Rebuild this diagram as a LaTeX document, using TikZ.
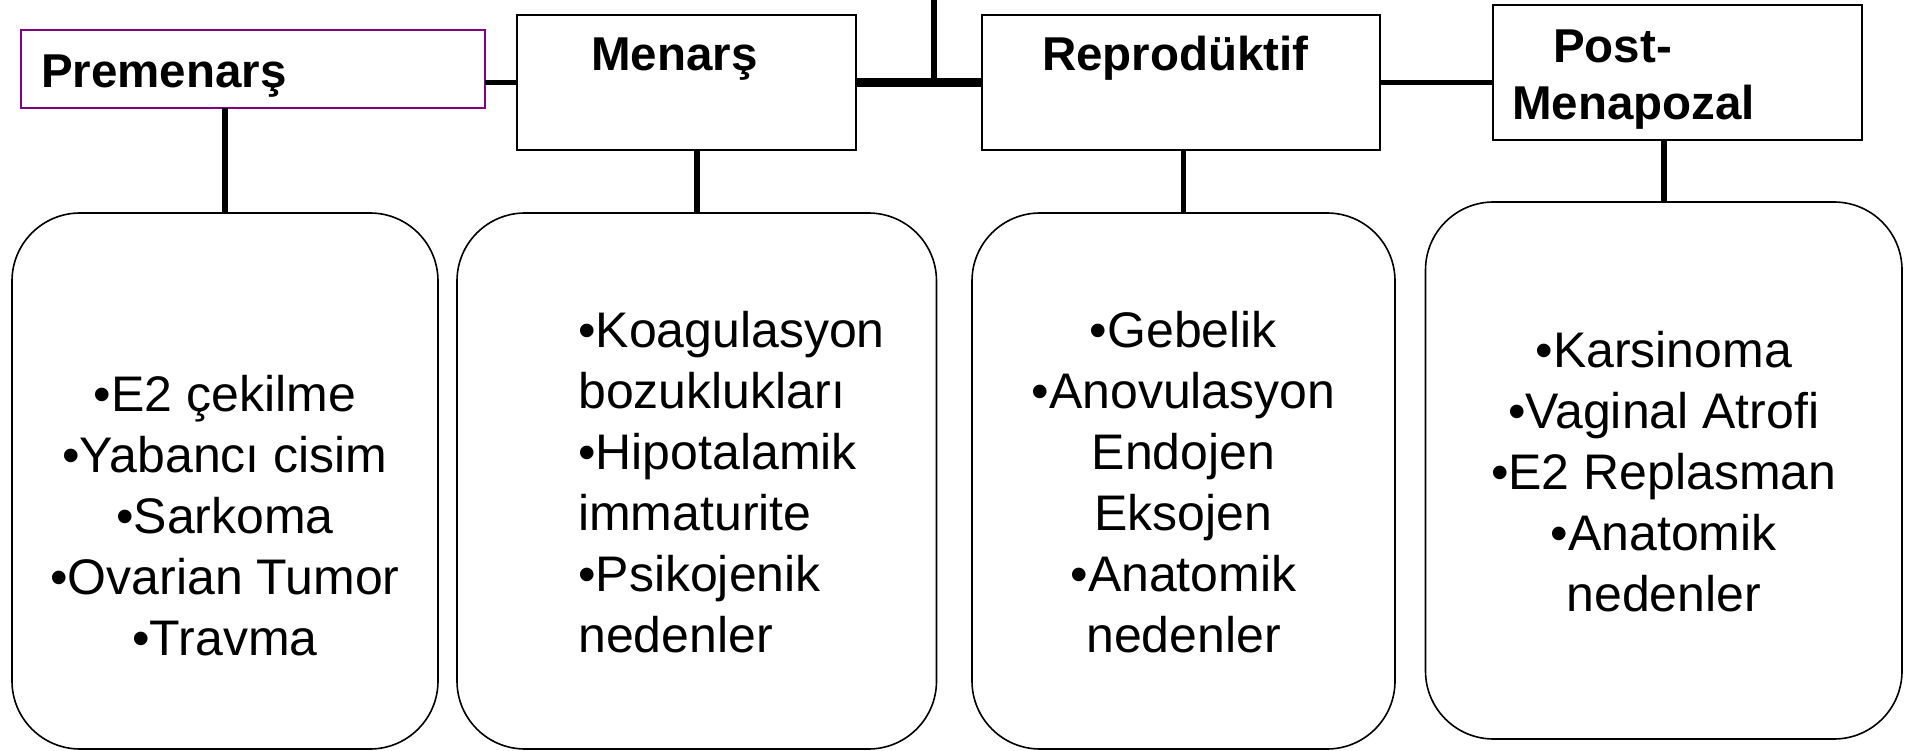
\documentclass[tikz,border=0pt]{standalone}
\usepackage{fontspec}
\setmainfont{Liberation Sans}
\definecolor{premcol}{RGB}{128,0,128}

\begin{document}
\begin{tikzpicture}[x=1pt, y=-1pt,
        hdr/.style={draw, line width=2pt, inner sep=0, outer sep=0},
        hdrtext/.style={font=\fontsize{47.5}{57}\selectfont\bfseries, inner sep=0},
        cause/.style={draw, line width=1.6pt, rounded corners=68pt, inner sep=0, outer sep=0, minimum height=536pt},
        causetext/.style={font=\fontsize{50}{61}\selectfont, inner sep=0, anchor=north},
        link/.style={line width=5.5pt}
    ]
    \useasboundingbox (0,0) rectangle (1912,751);
    \node[hdr, draw=premcol, minimum width=464pt, minimum height=78pt] (pre) at (252.9,69.5) {};
    \node[hdr, minimum width=339pt, minimum height=135pt] (men) at (686.5,82.3) {};
    \node[hdr, minimum width=398pt, minimum height=135pt] (rep) at (1180.8,82.3) {};
    \node[hdr, minimum width=369pt, minimum height=135pt] (post) at (1677.5,72.5) {};
    \node[hdrtext, anchor=base west] (pre-t) at (41,87.5) {Premenarş};
    \node[hdrtext, anchor=base west] (men-t) at (591,70.7) {Menarş};
    \node[hdrtext, anchor=base west] (rep-t) at (1042,70.7) {Reprodüktif};
    \node[hdrtext, anchor=north west, align=left] (post-t) at (1512,29.3) {\hspace*{41pt}Post-\\Menapozal};

    \node[cause, minimum width=426pt] (b1) at (225,481) {};
    \node[cause, minimum width=479.5pt] (b2) at (696.75,481) {};
    \node[cause, minimum width=423pt] (b3) at (1183.5,481) {};
    \node[cause, minimum width=476.5pt, minimum height=537pt] (b4) at (1663.75,470.5) {};
    \node[causetext, align=center] (b1-t) at (225,375.5) {•E2 çekilme\\•Yabancı cisim\\•Sarkoma\\•Ovarian Tumor\\•Travma};
    \node[causetext, anchor=north west, align=left] (b2-t) at (578,311.5) {•Koagulasyon\\bozuklukları\\•Hipotalamik\\immaturite\\•Psikojenik\\nedenler};
    \node[causetext, align=center] (b3-t) at (1183.5,311.5) {•Gebelik\\•Anovulasyon\\Endojen\\Eksojen\\•Anatomik\\nedenler};
    \node[causetext, align=center] (b4-t) at (1663.75,331.5) {•Karsinoma\\•Vaginal Atrofi\\•E2 Replasman\\•Anatomik\\nedenler};

    \coordinate (top) at (934,0);
    \draw[link] (pre.east |- men.west) -- (men.west);
    \draw[link, line width=9pt] (men.east) -- (rep.west);
    \draw[link] (top) -- (top |- men.east);
    \draw[link] (rep.east) -- (rep.east -| post.west);
    \draw[link] (b1.north |- pre.south) -- (b1.north);
    \draw[link] (b2.north |- men.south) -- (b2.north);
    \draw[link] (b3.north |- rep.south) -- (b3.north);
    \draw[link] (b4.north |- post.south) -- (b4.north);
\end{tikzpicture}
\end{document}
